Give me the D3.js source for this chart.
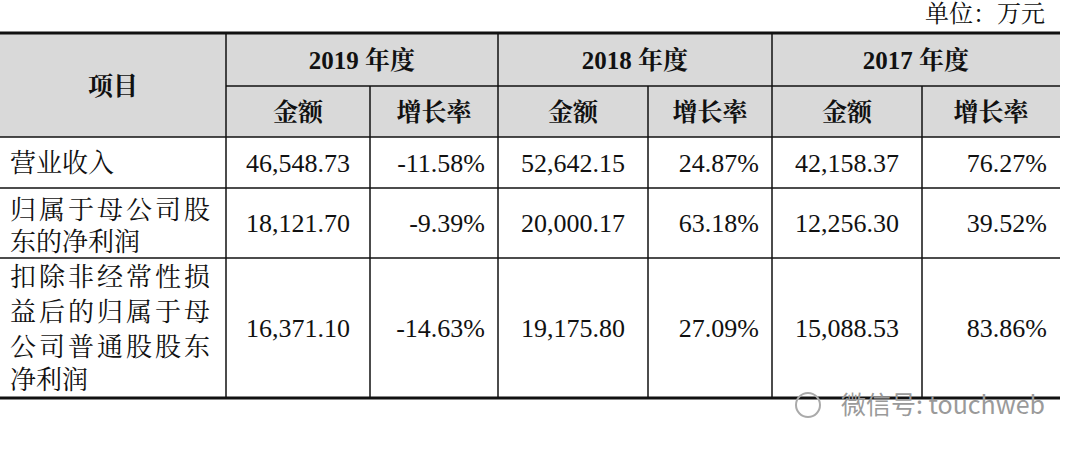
<!DOCTYPE html>
<html>
<head>
<meta charset="utf-8">
<script src="https://cdn.jsdelivr.net/npm/d3@7/dist/d3.min.js"></script>
<style>
  body { margin: 0; background: #fff; }
  text { font-family: "Liberation Serif", "Noto Serif CJK SC", "Noto Sans CJK SC", serif; fill: #111; }
</style>
</head>
<body>
<svg id="chart" width="1080" height="449"></svg>
<script>
// data
var years = ["2019 年度", "2018 年度", "2017 年度"];
var subHeads = ["金额", "增长率"];
var items = [
  ["营业收入"],
  ["归属于母公司股", "东的净利润"],
  ["扣除非经常性损", "益后的归属于母", "公司普通股股东", "净利润"]
];
var amount2019 = ["46,548.73", "18,121.70", "16,371.10"];
var growth2019 = ["-11.58%", "-9.39%", "-14.63%"];
var amount2018 = ["52,642.15", "20,000.17", "19,175.80"];
var growth2018 = ["24.87%", "63.18%", "27.09%"];
var amount2017 = ["42,158.37", "12,256.30", "15,088.53"];
var growth2017 = ["76.27%", "39.52%", "83.86%"];

// layout
var colX = [0, 226, 370, 498, 648, 772, 922, 1060];
var rowY = [33, 86, 137, 188, 258, 398];
var svg = d3.select("#chart");

svg.append("rect").attr("x", 0).attr("y", rowY[0]).attr("width", colX[7]).attr("height", rowY[2] - rowY[0]).attr("fill", "#d9d9d9");

// grid lines
var line = function (x1, y1, x2, y2, w) {
  svg.append("line").attr("x1", x1).attr("y1", y1).attr("x2", x2).attr("y2", y2)
    .attr("stroke", "#111").attr("stroke-width", w || 1.5);
};
line(0, rowY[0], colX[7], rowY[0], 3);
line(colX[1], rowY[1], colX[7], rowY[1]);
[2, 3, 4].forEach(function (i) { line(0, rowY[i], colX[7], rowY[i]); });
line(0, rowY[5], colX[7], rowY[5], 3);
[1, 3, 5].forEach(function (i) { line(colX[i], rowY[0], colX[i], rowY[5]); });
[2, 4, 6].forEach(function (i) { line(colX[i], rowY[1], colX[i], rowY[5]); });

function txt(x, y, s, opt) {
  opt = opt || {};
  return svg.append("text").attr("x", x).attr("y", y).attr("dy", "0.35em")
    .attr("text-anchor", opt.anchor || "middle")
    .attr("font-size", opt.size || 26)
    .attr("font-weight", opt.bold ? "bold" : null)
    .text(s);
}

txt(1045, 14, "单位：万元", {anchor: "end", size: 24});
txt(113, 86, "项目", {bold: true, size: 25});
years.forEach(function (y, i) {
  var a = colX[1 + i * 2], b = colX[3 + i * 2], m = colX[2 + i * 2];
  txt((a + b) / 2, 60, y, {bold: true, size: 25});
  txt((a + m) / 2, 112, subHeads[0], {bold: true, size: 25});
  txt((m + b) / 2, 112, subHeads[1], {bold: true, size: 25});
});

var cols = [amount2019, growth2019, amount2018, growth2018, amount2017, growth2017];
var rowLines = [[163], [210, 242], [277, 312, 347, 380]];
items.forEach(function (lines, r) {
  lines.forEach(function (l, k) {
    var t = txt(10, rowLines[r][k], l, {anchor: "start", size: 26});
    if (lines.length > 1 && l.length === 7) t.attr("textLength", 200).attr("lengthAdjust", "spacing");
  });
  var cy = (rowY[r + 2] + rowY[r + 3]) / 2;
  cols.forEach(function (c, j) {
    if (j % 2 === 0) txt((colX[j + 1] + colX[j + 2]) / 2, cy, c[r]);
    else txt(colX[j + 2] - 13, cy, c[r], {anchor: "end"});
  });
});

// watermark
svg.append("text").attr("x", 1045).attr("y", 405).attr("dy", "0.35em").attr("text-anchor", "end")
  .attr("font-size", 25).style("fill", "#9a9a9a").style("font-family", "Noto Sans CJK SC")
  .text("微信号: touchweb");
svg.append("circle").attr("cx", 808).attr("cy", 405).attr("r", 12).attr("fill", "none").attr("stroke", "#aaa").attr("stroke-width", 2);
</script>
</body>
</html>
